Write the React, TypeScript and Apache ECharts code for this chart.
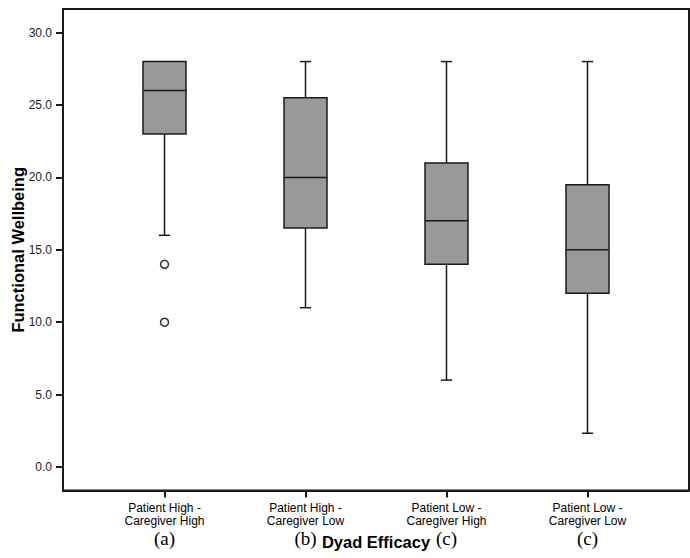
import React, { useEffect, useRef } from "react";
import * as echarts from "echarts";

// ---- data ----
const positions = [1, 2, 3, 4];
const labelLine1 = ["Patient High -", "Patient High -", "Patient Low -", "Patient Low -"];
const labelLine2 = ["Caregiver High", "Caregiver Low", "Caregiver High", "Caregiver Low"];
const groupLetters = ["(a)", "(b)", "(c)", "(c)"];
const whiskerLow = [16, 11, 6, 2.33];
const q1 = [23, 16.5, 14, 12];
const median = [26, 20, 17, 15];
const q3 = [28, 25.5, 21, 19.5];
const whiskerHigh = [28, 28, 28, 28];
const outlierPos = [1, 1];
const outlierVal = [14, 10];
const yTicks = [0, 5, 10, 15, 20, 25, 30];

const FONT = "'Liberation Sans', Arial, sans-serif";
const INK = "#1a1a1a";

export default function App() {
  const ref = useRef<HTMLDivElement>(null);

  useEffect(() => {
    if (!ref.current) return;
    const chart = echarts.init(ref.current, null, { renderer: "svg" });

    const boxData = positions.map((p, i) => [p, whiskerLow[i], q1[i], median[i], q3[i], whiskerHigh[i]]);
    const outData = outlierPos.map((p, i) => [p, outlierVal[i]]);

    const renderItem = (params: any, api: any) => {
      const x = api.value(0);
      const lo = api.coord([x, api.value(1)]);
      const b1 = api.coord([x, api.value(2)]);
      const md = api.coord([x, api.value(3)]);
      const b3 = api.coord([x, api.value(4)]);
      const hi = api.coord([x, api.value(5)]);
      const boxW = api.size([0.305, 0])[0];
      const capW = api.size([0.08, 0])[0];
      const cx = lo[0];
      const lineStyle = { stroke: INK, lineWidth: 1.5, fill: null };
      const children: any[] = [];
      if (api.value(1) < api.value(2)) {
        children.push({ type: "line", shape: { x1: cx, y1: b1[1], x2: cx, y2: lo[1] }, style: lineStyle });
        children.push({ type: "line", shape: { x1: cx - capW / 2, y1: lo[1], x2: cx + capW / 2, y2: lo[1] }, style: lineStyle });
      }
      if (api.value(5) > api.value(4)) {
        children.push({ type: "line", shape: { x1: cx, y1: b3[1], x2: cx, y2: hi[1] }, style: lineStyle });
        children.push({ type: "line", shape: { x1: cx - capW / 2, y1: hi[1], x2: cx + capW / 2, y2: hi[1] }, style: lineStyle });
      }
      children.push({
        type: "rect",
        shape: { x: cx - boxW / 2, y: b3[1], width: boxW, height: b1[1] - b3[1] },
        style: { fill: "#999999", stroke: INK, lineWidth: 1.5 },
      });
      children.push({
        type: "line",
        shape: { x1: cx - boxW / 2, y1: md[1], x2: cx + boxW / 2, y2: md[1] },
        style: lineStyle,
      });
      return { type: "group", children };
    };

    chart.setOption({
      animation: false,
      backgroundColor: "#ffffff",
      grid: {
        left: 63,
        right: 1,
        top: 9,
        bottom: 67.4,
        containLabel: false,
        outerBoundsMode: "none",
        show: true,
        borderColor: INK,
        borderWidth: 2,
        backgroundColor: "transparent",
      },
      xAxis: {
        type: "value",
        min: 0.28,
        max: 4.72,
        name: "Dyad Efficacy",
        nameLocation: "middle",
        nameGap: 43,
        nameMoveOverlap: false,
        nameTextStyle: { fontFamily: FONT, fontWeight: "bold", fontSize: 16.5, color: "#000" },
        axisLine: { show: true, onZero: false, lineStyle: { color: INK, width: 2 } },
        splitLine: { show: false },
        axisTick: { show: true, inside: false, customValues: positions, length: 7, lineStyle: { color: INK, width: 2 } },
        axisLabel: {
          customValues: positions,
          margin: 11,
          formatter: (v: number) => {
            const i = positions.indexOf(Math.round(v));
            if (i < 0) return "";
            return `{n|${labelLine1[i]}}\n{n|${labelLine2[i]}}\n{l|${groupLetters[i]}}`;
          },
          rich: {
            n: { fontFamily: FONT, fontSize: 12, lineHeight: 13, color: "#000", align: "center" },
            l: { fontFamily: "'Liberation Serif', 'Times New Roman', serif", fontSize: 19, lineHeight: 21, color: "#000", align: "center" },
          },
        },
      },
      yAxis: {
        type: "value",
        min: -1.63,
        max: 31.63,
        name: "Functional Wellbeing",
        nameLocation: "middle",
        nameGap: 37,
        nameMoveOverlap: false,
        nameTextStyle: { fontFamily: FONT, fontWeight: "bold", fontSize: 16.5, color: "#000" },
        axisLine: { show: true, onZero: false, lineStyle: { color: INK, width: 2 } },
        splitLine: { show: false },
        axisTick: { show: true, inside: false, customValues: yTicks, length: 7, lineStyle: { color: INK, width: 2 } },
        axisLabel: {
          customValues: yTicks,
          margin: 11,
          fontFamily: FONT,
          fontSize: 12,
          color: "#222",
          formatter: (v: number) => v.toFixed(1),
        },
      },
      series: [
        {
          type: "custom",
          renderItem,
          data: boxData,
          encode: { x: 0, y: [1, 2, 3, 4, 5] },
          z: 2,
        },
        {
          type: "scatter",
          data: outData,
          symbol: "circle",
          symbolSize: 8,
          itemStyle: { color: "#ffffff", borderColor: "#000", borderWidth: 1.5 },
          z: 3,
        },
      ],
    });

    return () => chart.dispose();
  }, []);

  return (
    <div
      ref={ref}
      style={{ position: "fixed", left: 0, top: 0, width: 690, height: 558, background: "#fff" }}
    />
  );
}
